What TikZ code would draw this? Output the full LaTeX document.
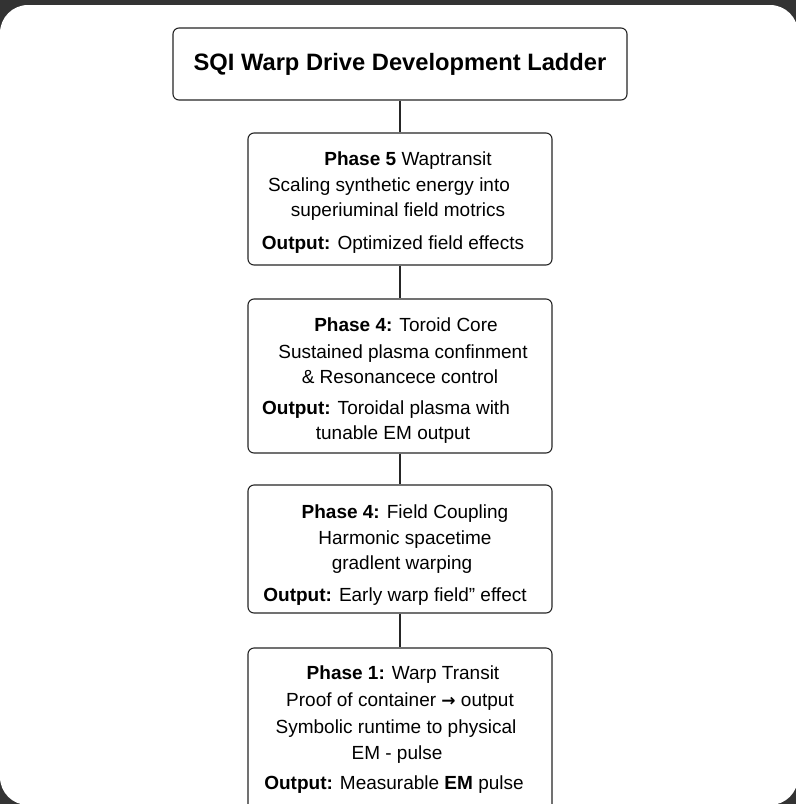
\documentclass[tikz,border=0pt]{standalone}
\usepackage{fontspec}
\setmainfont{Liberation Sans}
\newfontfamily\arrowfont{DejaVu Sans}

\begin{document}
\begin{tikzpicture}
      [ x=1pt, y=-1pt
      , stage/.style={draw=black!85, line width=1.1pt, rounded corners=6pt, fill=white, minimum width=304pt}
      , heading/.style={draw=black!85, line width=1.1pt, rounded corners=6pt, fill=white, minimum width=454pt, minimum height=72pt, font=\fontsize{23.7}{28}\selectfont\bfseries}
      , txt/.style={anchor=base, inner sep=0pt, font=\fontsize{19}{22}\selectfont}
      , link/.style={black!85, line width=1.5pt}
      ]
    \clip (0,0) rectangle (796,804);
    \fill[black!80] (0,0) rectangle (796,804);
    \fill[white, rounded corners=28pt] (0,5) rectangle (798,805);

    \node[heading] (T) at (400,64) {SQI Warp Drive Development Ladder};
    \node[stage, minimum height=132pt] (P5) at (400,199) {};
    \node[stage, minimum height=154pt] (P4) at (400,376) {};
    \node[stage, minimum height=128pt] (P3) at (400,549) {};
    \node[stage, minimum height=168pt] (P1) at (400,732) {};

    \draw[link]
    (T) edge (P5)
    (P5) edge (P4)
    (P4) edge (P3)
    (P3) edge (P1);

    % phase 5
    \node[txt] (P5a) at (408,165) {\textbf{Phase 5} Waptransit};
    \node[txt] (P5b) at (389,191) {Scaling synthetic energy into};
    \node[txt] (P5c) at (398,216) {superiuminal field motrics};
    \node[txt] (P5d) at (393,249) {\textbf{Output:} Optimized field effects};

    % phase 4, core
    \node[txt] (P4a) at (406,331) {\textbf{Phase 4:} Toroid Core};
    \node[txt] (P4b) at (403,358) {Sustained plasma confinment};
    \node[txt] (P4c) at (400,383) {\& Resonancece control};
    \node[txt] (P4d) at (386,414) {\textbf{Output:} Toroidal plasma with};
    \node[txt] (P4e) at (393,439) {tunable EM output};

    % phase 4, coupling
    \node[txt] (P3a) at (405,518) {\textbf{Phase 4:} Field Coupling};
    \node[txt] (P3b) at (405,544) {Harmonic spacetime};
    \node[txt] (P3c) at (402,569) {gradlent warping};
    \node[txt] (P3d) at (395,601) {\textbf{Output:} Early warp field” effect};

    % phase 1
    \node[txt] (P1a) at (403,679) {\textbf{Phase 1:} Warp Transit};
    \node[txt] (P1b) at (400,706) {Proof of container {\arrowfont\bfseries\fontsize{17}{20}\selectfont →} output};
    \node[txt] (P1c) at (396,733) {Symbolic runtime to physical};
    \node[txt] (P1d) at (397,759) {EM - pulse};
    \node[txt] (P1e) at (394,789) {\textbf{Output:} Measurable \textbf{EM} pulse};
  \end{tikzpicture}
\end{document}
